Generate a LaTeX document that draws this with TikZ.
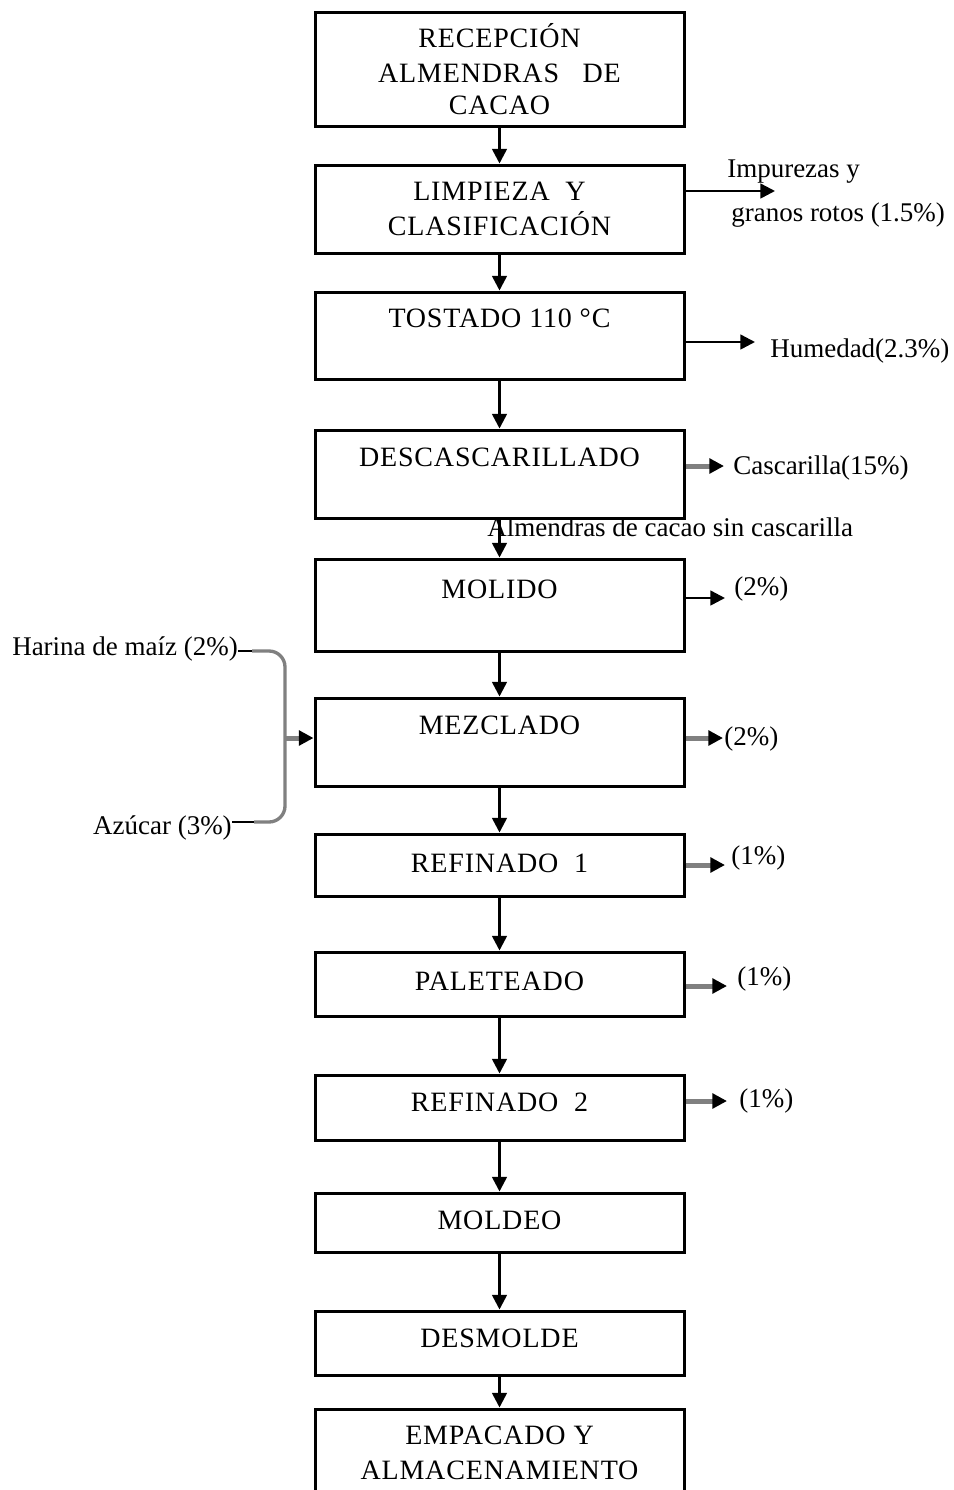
\documentclass[tikz,border=0pt]{standalone}
\usepackage{fontspec}
\setmainfont{Liberation Serif}
\newfontfamily\boxfont[LetterSpace=3]{Liberation Serif}
\usetikzlibrary{arrows.meta}
\begin{document}
\begin{tikzpicture}[x=0.75pt,y=-0.75pt,
  box/.style={draw=black,line width=2.25pt,minimum width=276.75pt,inner sep=0pt,rectangle},
  btxt/.style={anchor=base,inner sep=0pt,font=\boxfont\fontsize{21}{25.5}\selectfont},
  lbl/.style={anchor=base west,inner sep=0pt,font=\fontsize{20.25}{24}\selectfont},
  arr/.style={draw=black,line width=1.9pt,-{Triangle[length=11pt,width=11pt,color=black]}},
  garr/.style={draw=gray,line width=3.75pt,-{Triangle[length=11pt,width=11pt,color=black]}},
  brk/.style={draw=gray,line width=2.5pt,rounded corners=12pt}]
\useasboundingbox (0,0) rectangle (954,1490);
\clip (0,0) rectangle (954,1490);
\fill[white] (0,0) rectangle (954,1490);
% boxes
\node[box,minimum height=85.5pt] (b1) at (499.5,69) {};
\node[box,minimum height=66pt] (b2) at (499.5,209) {};
\node[box,minimum height=65.25pt] (b3) at (499.5,335.5) {};
\node[box,minimum height=66pt] (b4) at (499.5,474) {};
\node[box,minimum height=69pt] (b5) at (499.5,605) {};
\node[box,minimum height=66pt] (b6) at (499.5,742) {};
\node[box,minimum height=46.5pt] (b7) at (499.5,865) {};
\node[box,minimum height=48pt] (b8) at (499.5,984) {};
\node[box,minimum height=48.75pt] (b9) at (499.5,1107.5) {};
\node[box,minimum height=44.25pt] (b10) at (499.5,1222.5) {};
\node[box,minimum height=48pt] (b11) at (499.5,1343) {};
\node[box,minimum height=83.25pt] (b12) at (499.5,1464.5) {};
% box texts
\node[btxt] (t1a) at (499.5,47) {RECEPCIÓN};
\node[btxt] (t1b) at (499.5,82) {ALMENDRAS\ \ \ DE};
\node[btxt] (t1c) at (499.5,114) {CACAO};
\node[btxt] (t2a) at (499.5,200) {LIMPIEZA\ \ Y};
\node[btxt] (t2b) at (499.5,235) {CLASIFICACIÓN};
\node[btxt] (t3) at (499.5,327) {TOSTADO 110 °C};
\node[btxt] (t4) at (499.5,466) {DESCASCARILLADO};
\node[btxt] (t5) at (499.5,598) {MOLIDO};
\node[btxt] (t6) at (499.5,734) {MEZCLADO};
\node[btxt] (t7) at (499.5,872) {REFINADO\ \ 1};
\node[btxt] (t8) at (499.5,990) {PALETEADO};
\node[btxt] (t9) at (499.5,1111) {REFINADO\ \ 2};
\node[btxt] (t10) at (499.5,1229) {MOLDEO};
\node[btxt] (t11) at (499.5,1347) {DESMOLDE};
\node[btxt] (t12a) at (499.5,1444) {EMPACADO Y};
\node[btxt] (t12b) at (499.5,1479) {ALMACENAMIENTO};
% vertical arrows
\draw[arr] (b1.south) -- (b2.north);
\draw[arr] (b2.south) -- (b3.north);
\draw[arr] (b3.south) -- (b4.north);
\draw[arr] (b4.south) -- (b5.north);
\draw[arr] (b5.south) -- (b6.north);
\draw[arr] (b6.south) -- (b7.north);
\draw[arr] (b7.south) -- (b8.north);
\draw[arr] (b8.south) -- (b9.north);
\draw[arr] (b9.south) -- (b10.north);
\draw[arr] (b10.south) -- (b11.north);
\draw[arr] (b11.south) -- (b12.north);
% side outputs
\coordinate (a2) at (775,191);
\coordinate (a3) at (755,342);
\coordinate (a4) at (724,466);
\coordinate (a5) at (725,598);
\coordinate (a6) at (723,738);
\coordinate (a7) at (725,865);
\coordinate (a8) at (727,986);
\coordinate (a9) at (727,1101);
\draw[arr] (b2.east |- a2) -- (a2);
\draw[arr] (b3.east |- a3) -- (a3);
\draw[garr] (b4.east |- a4) -- (a4);
\draw[arr] (b5.east |- a5) -- (a5);
\draw[garr] (b6.east |- a6) -- (a6);
\draw[garr] (b7.east |- a7) -- (a7);
\draw[garr] (b8.east |- a8) -- (a8);
\draw[garr] (b9.east |- a9) -- (a9);
% labels
\node[lbl] (l2a) at (727,177) {Impurezas y};
\node[lbl] (l2b) at (731,221) {granos rotos (1.5\%)};
\node[lbl] (l3) at (770,357) {Humedad(2.3\%)};
\node[lbl] (l4) at (733,474) {Cascarilla(15\%)};
\node[lbl] (l4b) at (487,536) {Almendras de cacao sin cascarilla};
\node[lbl] (l5) at (734,595) {(2\%)};
\node[lbl] (l6) at (724,745) {(2\%)};
\node[lbl] (l7) at (731,864) {(1\%)};
\node[lbl] (l8) at (737,985) {(1\%)};
\node[lbl] (l9) at (739,1107) {(1\%)};
% inputs
\node[lbl] (h) at (12,655) {Harina de maíz (2\%)};
\node[lbl,anchor=base east] (az) at (232,834) {Azúcar (3\%)};
\coordinate (jt) at (285,738);
\draw[line width=1.9pt] (h.east |- 0,651) -- (253,651);
\draw[line width=1.9pt] (az.east |- 0,822) -- (255,822);
\draw[brk] (252,651) -- (285,651) -- (285,822) -- (254,822);
\draw[garr] (jt) -- (b6.west |- jt);
\end{tikzpicture}
\end{document}
